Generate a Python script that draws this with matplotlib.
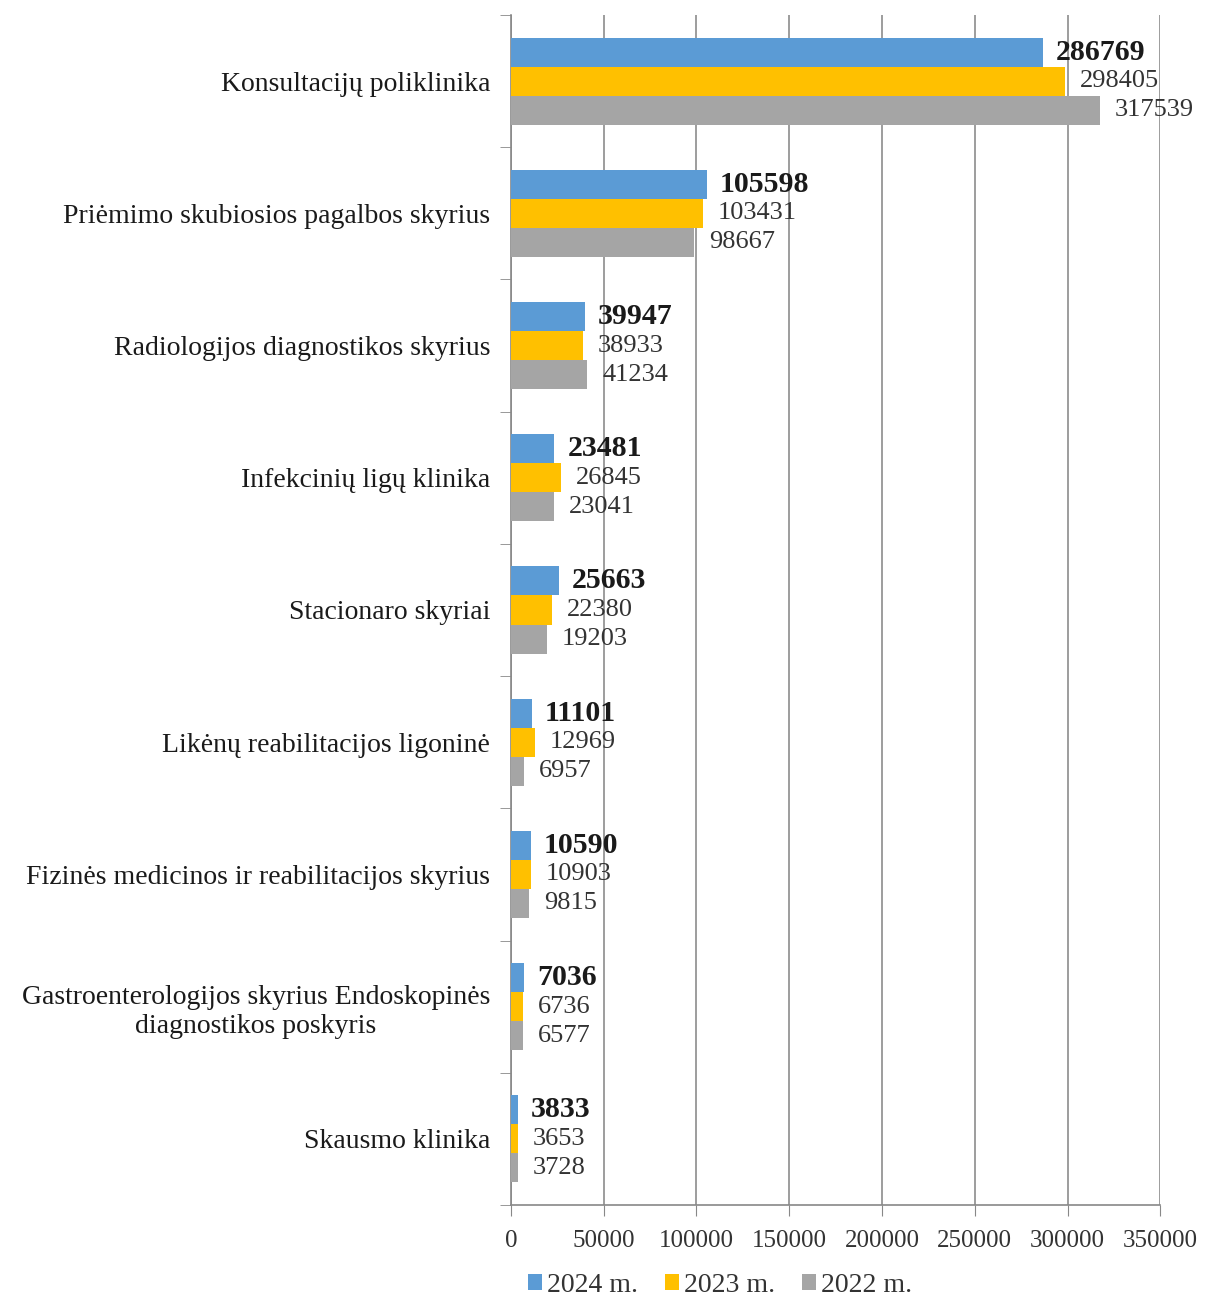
import numpy as np
import matplotlib.pyplot as plt

plt.rcParams['font.family'] = ['Liberation Serif', 'DejaVu Serif']

# data
categories = ['Konsultacijų poliklinika',
              'Priėmimo skubiosios pagalbos skyrius',
              'Radiologijos diagnostikos skyrius',
              'Infekcinių ligų klinika',
              'Stacionaro skyriai',
              'Likėnų reabilitacijos ligoninė',
              'Fizinės medicinos ir reabilitacijos skyrius',
              'Gastroenterologijos skyrius Endoskopinės\ndiagnostikos poskyris',
              'Skausmo klinika']
v2024 = [286769, 105598, 39947, 23481, 25663, 11101, 10590, 7036, 3833]
v2023 = [298405, 103431, 38933, 26845, 22380, 12969, 10903, 6736, 3653]
v2022 = [317539, 98667, 41234, 23041, 19203, 6957, 9815, 6577, 3728]
series_names = ['2024 m.', '2023 m.', '2022 m.']
colors = ['#5B9BD5', '#FFC000', '#A5A5A5']

fig = plt.figure(figsize=(12.05, 12.98), dpi=100)
ax = fig.add_axes([0.424, 0.0717, 0.539, 0.9167])

n = len(categories)
y = np.arange(n)[::-1].astype(float)  # first category on top
h = 0.22

for i, (vals, name, c) in enumerate(zip([v2024, v2023, v2022], series_names, colors)):
    pos = y + h - i * h
    ax.barh(pos, vals, height=h, color=c, label=name, zorder=3)
    for p, v in zip(pos, vals):
        if i == 0:
            ax.text(v + 7000, p, str(v), va='center', ha='left', fontsize=21.5,
                    fontweight='bold', color='#1a1a1a', zorder=4)
        else:
            ax.text(v + 8000, p, str(v), va='center', ha='left', fontsize=19,
                    color='#333333', zorder=4)

ax.set_xlim(0, 350000)
ax.set_ylim(-0.5, n - 0.5)
ax.set_xticks(np.arange(0, 350001, 50000))
ax.tick_params(axis='x', labelsize=18, length=8, color='#888888', pad=10,
               labelcolor='#333333')
ax.grid(axis='x', color='#8c8c8c', linewidth=1.2, zorder=0)

ax.set_yticks(y)
ax.set_yticklabels(categories, fontsize=20, linespacing=1.25, color='#1a1a1a')
for t in ax.get_yticklabels():
    t.set_multialignment('center')
ax.tick_params(axis='y', length=0, pad=15)
ax.set_yticks(np.arange(-0.5, n, 1.0), minor=True)
ax.tick_params(axis='y', which='minor', length=8, color='#888888')

for s in ['top', 'right']:
    ax.spines[s].set_visible(False)
for s in ['left', 'bottom']:
    ax.spines[s].set_color('#888888')
    ax.spines[s].set_linewidth(1.2)

fig.legend(loc='center', bbox_to_anchor=(720 / 1205, 1 - 1285 / 1298), ncol=3,
           frameon=False, fontsize=20, handlelength=0.5, handleheight=0.5,
           columnspacing=0.95, handletextpad=0.2, labelcolor='#333333')

fig.savefig('out.png', dpi=100)
